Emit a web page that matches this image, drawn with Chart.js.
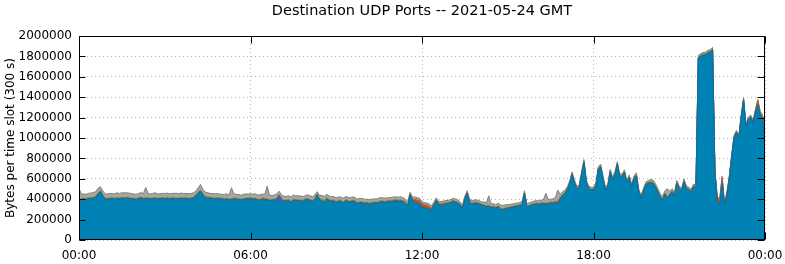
<!DOCTYPE html>
<html lang="en">
<head>
<meta charset="UTF-8">
<title>Destination UDP Ports</title>
<script src="https://cdn.jsdelivr.net/npm/chart.js"></script>
<style>
  html, body { margin: 0; padding: 0; background: #fff; }
  #wrap { width: 785px; height: 264px; }
</style>
</head>
<body>
<div id="wrap"><canvas id="chart" width="785" height="264"></canvas></div>
<script>
// 300 s slots from 00:00 to 24:00, one row per hour
const titleText = 'Destination UDP Ports -- 2021-05-24 GMT';
const xTickLabels = ['00:00', '06:00', '12:00', '18:00', '00:00'];

const portMain = [
  403000,393000,400000,395000,405000,405000,408000,418000,450000,473000,428000,400000,
  398000,402000,405000,400000,405000,403000,408000,405000,410000,405000,402000,400000,
  395000,405000,410000,400000,402000,405000,400000,402000,405000,400000,402000,405000,
  402000,405000,400000,405000,403000,400000,402000,405000,403000,405000,400000,402000,
  410000,430000,455000,475000,440000,415000,410000,408000,405000,400000,405000,402000,
  400000,395000,400000,392000,395000,400000,400000,395000,390000,395000,400000,402000,
  405000,398000,400000,390000,388000,400000,395000,392000,385000,388000,390000,392000,
  380000,385000,378000,380000,385000,368000,390000,385000,385000,380000,378000,392000,
  395000,385000,375000,395000,440000,395000,380000,370000,400000,385000,378000,380000,
  365000,380000,375000,362000,385000,375000,370000,380000,372000,355000,365000,362000,
  355000,360000,350000,358000,362000,360000,365000,375000,368000,370000,378000,375000,
  380000,385000,378000,382000,375000,360000,330000,440000,385000,370000,362000,355000,
  320000,315000,312000,305000,290000,340000,385000,345000,340000,345000,350000,355000,
  365000,375000,370000,360000,340000,310000,400000,455000,365000,350000,360000,358000,
  350000,340000,335000,325000,330000,315000,320000,310000,325000,300000,295000,305000,
  310000,315000,320000,325000,330000,335000,340000,455000,320000,330000,340000,345000,
  350000,348000,352000,355000,350000,355000,360000,358000,365000,360000,400000,430000,
  455000,490000,550000,640000,560000,500000,510000,640000,760000,560000,500000,490000,
  490000,530000,690000,715000,600000,490000,520000,665000,590000,640000,740000,620000,
  620000,660000,555000,610000,520000,600000,630000,470000,410000,480000,540000,555000,
  560000,555000,520000,470000,420000,390000,450000,405000,440000,470000,430000,555000,
  500000,480000,570000,500000,490000,470000,520000,510000,1780000,1800000,1810000,1815000,
  1830000,1840000,1860000,650000,380000,340000,550000,330000,440000,600000,810000,1000000,
  1050000,1000000,1200000,1370000,1110000,1180000,1200000,1150000,1250000,1320000,1220000,1200000,
  920000
];

const portIndigo = [
  0,0,0,0,0,0,0,0,0,0,0,0,
  0,0,0,0,0,0,0,0,0,0,0,0,
  0,0,0,0,0,0,0,0,0,0,0,0,
  0,0,0,0,0,0,0,0,0,0,0,0,
  0,0,0,0,0,0,0,0,0,0,0,0,
  0,0,0,0,0,0,0,0,0,0,0,0,
  0,0,0,0,0,0,0,0,0,0,0,10000,
  55000,10000,0,0,0,0,0,0,0,0,0,0,
  0,0,0,0,0,0,0,0,0,0,0,0,
  0,0,0,0,0,0,0,0,0,0,0,0,
  0,0,0,0,0,0,0,0,0,0,0,0,
  0,0,0,0,0,0,0,0,0,0,0,0,
  0,0,0,0,0,0,0,0,0,0,0,0,
  0,0,0,0,0,0,0,0,0,0,0,0,
  0,0,0,0,0,0,0,0,0,0,0,0,
  0,0,0,0,0,0,0,0,0,0,0,0,
  0,0,0,0,0,0,0,0,0,0,0,0,
  0,0,0,0,0,0,0,0,0,0,0,0,
  0,0,0,0,0,0,0,0,0,0,0,0,
  0,0,0,0,0,0,0,0,0,0,0,0,
  0,0,0,0,0,0,0,0,0,0,0,0,
  0,0,0,0,0,0,0,0,0,0,0,0,
  0,0,0,0,0,0,30000,0,0,0,0,0,
  0,0,0,0,0,0,0,0,0,10000,0,0,
  0
];

const portRed = [
  6000,6000,6000,6000,6000,6000,6000,6000,6000,6000,6000,6000,
  6000,6000,6000,6000,6000,6000,6000,6000,6000,6000,6000,6000,
  6000,6000,6000,6000,6000,6000,6000,6000,6000,6000,6000,6000,
  6000,6000,6000,6000,6000,6000,6000,6000,6000,6000,6000,6000,
  6000,6000,8000,8000,8000,6000,6000,6000,6000,6000,6000,6000,
  6000,6000,6000,6000,6000,6000,6000,6000,6000,6000,6000,6000,
  6000,6000,6000,6000,6000,6000,6000,8000,6000,6000,6000,6000,
  6000,6000,6000,6000,6000,6000,6000,6000,6000,6000,6000,6000,
  6000,6000,6000,6000,6000,6000,6000,6000,6000,6000,6000,6000,
  6000,6000,6000,6000,6000,6000,6000,6000,6000,6000,6000,6000,
  6000,6000,6000,6000,6000,6000,8000,6000,6000,6000,6000,6000,
  6000,6000,6000,6000,8000,6000,6000,6000,8000,25000,28000,28000,
  30000,28000,25000,22000,18000,8000,6000,8000,10000,12000,10000,8000,
  6000,6000,6000,6000,6000,6000,6000,6000,6000,6000,6000,6000,
  6000,6000,6000,6000,6000,6000,6000,6000,6000,6000,6000,6000,
  6000,6000,6000,6000,6000,6000,6000,6000,6000,6000,6000,6000,
  6000,6000,6000,6000,6000,6000,8000,8000,10000,12000,12000,10000,
  6000,6000,6000,6000,6000,6000,6000,6000,6000,6000,6000,6000,
  6000,6000,6000,6000,6000,6000,6000,6000,6000,6000,6000,6000,
  6000,6000,6000,6000,6000,6000,6000,6000,6000,6000,6000,6000,
  6000,6000,6000,6000,6000,6000,6000,6000,6000,6000,6000,6000,
  6000,6000,6000,6000,6000,6000,6000,6000,6000,6000,6000,6000,
  6000,6000,6000,8000,20000,55000,25000,15000,10000,8000,6000,6000,
  6000,6000,6000,6000,6000,6000,6000,6000,15000,30000,20000,10000,
  6000
];

const portGreen = [
  7000,7000,7000,7000,7000,7000,7000,7000,7000,7000,7000,7000,
  7000,7000,7000,7000,7000,7000,7000,7000,7000,7000,7000,7000,
  7000,7000,7000,7000,7000,7000,7000,7000,7000,7000,7000,7000,
  7000,7000,7000,7000,7000,7000,7000,7000,7000,7000,7000,7000,
  7000,7000,7000,7000,9000,10000,9000,7000,7000,7000,7000,7000,
  7000,7000,7000,7000,7000,7000,7000,7000,7000,7000,7000,7000,
  7000,7000,7000,7000,7000,7000,7000,7000,7000,7000,7000,7000,
  7000,7000,7000,7000,7000,7000,7000,7000,7000,7000,7000,7000,
  7000,7000,7000,7000,7000,7000,15000,15000,12000,7000,7000,7000,
  7000,7000,7000,7000,7000,7000,7000,7000,7000,7000,7000,7000,
  7000,7000,7000,7000,7000,7000,7000,7000,7000,7000,7000,7000,
  7000,7000,7000,7000,7000,7000,7000,7000,7000,7000,7000,7000,
  7000,7000,7000,7000,7000,7000,7000,7000,7000,7000,7000,7000,
  7000,7000,7000,7000,7000,7000,7000,7000,7000,7000,7000,7000,
  7000,7000,7000,7000,7000,7000,7000,7000,7000,7000,7000,7000,
  7000,7000,7000,7000,7000,7000,7000,7000,7000,7000,7000,7000,
  7000,7000,7000,7000,7000,7000,7000,7000,7000,7000,7000,7000,
  7000,7000,7000,7000,7000,7000,7000,7000,7000,7000,7000,7000,
  7000,7000,7000,7000,7000,7000,7000,7000,7000,7000,7000,7000,
  7000,7000,7000,7000,7000,7000,7000,7000,7000,7000,7000,7000,
  7000,7000,7000,7000,7000,7000,7000,7000,7000,7000,7000,7000,
  7000,7000,7000,7000,7000,7000,7000,7000,7000,7000,7000,7000,
  7000,7000,7000,7000,7000,7000,7000,7000,7000,7000,7000,7000,
  7000,7000,7000,7000,7000,7000,7000,7000,7000,7000,7000,7000,
  7000
];

const portOther = [
  90000,45000,38000,40000,40000,42000,45000,42000,45000,35000,40000,38000,
  40000,42000,38000,40000,45000,40000,42000,45000,40000,42000,40000,38000,
  40000,38000,42000,40000,100000,40000,38000,42000,45000,40000,38000,40000,
  40000,42000,40000,38000,42000,45000,40000,42000,40000,38000,42000,40000,
  40000,35000,40000,55000,40000,38000,40000,35000,38000,40000,38000,35000,
  35000,38000,40000,35000,105000,40000,35000,38000,35000,40000,38000,35000,
  35000,38000,40000,38000,42000,38000,40000,120000,40000,35000,38000,35000,
  30000,35000,38000,35000,35000,40000,38000,35000,35000,38000,35000,30000,
  35000,35000,38000,35000,20000,30000,35000,38000,30000,32000,35000,32000,
  35000,30000,32000,35000,28000,30000,32000,30000,28000,35000,30000,32000,
  30000,28000,32000,30000,28000,30000,32000,28000,30000,28000,25000,28000,
  28000,25000,28000,30000,25000,28000,30000,15000,22000,20000,18000,20000,
  15000,18000,18000,20000,20000,15000,15000,18000,20000,18000,20000,18000,
  20000,18000,20000,22000,20000,22000,18000,15000,20000,22000,20000,22000,
  22000,20000,25000,25000,90000,25000,25000,20000,25000,30000,30000,28000,
  25000,22000,20000,20000,18000,20000,22000,15000,20000,22000,20000,22000,
  25000,22000,25000,30000,95000,30000,25000,30000,35000,110000,30000,25000,
  20000,18000,15000,15000,15000,15000,15000,15000,15000,15000,15000,15000,
  15000,15000,15000,15000,15000,15000,15000,15000,15000,15000,15000,15000,
  15000,15000,15000,15000,15000,15000,15000,15000,15000,15000,15000,15000,
  20000,20000,20000,20000,20000,25000,20000,85000,25000,20000,25000,15000,
  15000,15000,15000,15000,15000,15000,15000,15000,15000,15000,15000,15000,
  15000,15000,15000,12000,12000,12000,12000,12000,12000,12000,12000,12000,
  12000,12000,12000,12000,12000,12000,12000,12000,12000,12000,12000,12000,
  10000
];

// slot start times in minutes
const slotMinutes = portMain.map((v, i) => i * 5);

const font = '"DejaVu Sans", "Liberation Sans", sans-serif';

const frame = {
  id: 'frame',
  beforeDraw(chart) {
    const ctx = chart.ctx;
    ctx.save();
    ctx.fillStyle = '#fff';
    ctx.fillRect(0, 0, chart.width, chart.height);
    ctx.restore();
  },
  afterDatasetsDraw(chart) {
    const { ctx, chartArea: a, scales } = chart;
    const L = Math.round(a.left) + 0.5, R = Math.round(a.right) - 0.5;
    const T = Math.round(a.top) + 0.5, B = Math.round(a.bottom) - 0.5;
    ctx.save();
    ctx.strokeStyle = '#000';
    ctx.lineWidth = 1;
    ctx.beginPath();
    scales.y.ticks.forEach(t => {
      const y = Math.round(scales.y.getPixelForValue(t.value)) + 0.5;
      ctx.moveTo(L, y); ctx.lineTo(L + 6, y);
      ctx.moveTo(R, y); ctx.lineTo(R - 7, y);
    });
    scales.x.ticks.forEach(t => {
      const x = Math.round(scales.x.getPixelForValue(t.value)) + 0.5;
      ctx.moveTo(x, T); ctx.lineTo(x, T + 7);
      ctx.moveTo(x, B); ctx.lineTo(x, B - 7);
    });
    ctx.stroke();
    ctx.strokeRect(L, T, R - L, B - T);
    ctx.fillStyle = '#000';
    ctx.font = '14.5px ' + font;
    ctx.textAlign = 'center';
    ctx.textBaseline = 'middle';
    ctx.fillText(titleText, (a.left + a.right) / 2, 11);
    ctx.restore();
  }
};

const layer = (label, data, fillColor, lineColor, fill) => ({
  label, data, fill,
  backgroundColor: fillColor,
  borderColor: lineColor,
  borderWidth: 1,
  pointRadius: 0,
  tension: 0
});

new Chart(document.getElementById('chart'), {
  type: 'line',
  data: {
    labels: slotMinutes,
    datasets: [
      layer('main', portMain, '#0082b4', '#0a6f99', 'origin'),
      layer('indigo', portIndigo, '#3f5fbf', '#3f5fbf', '-1'),
      layer('red', portRed, '#d9481c', '#d9481c', '-1'),
      layer('green', portGreen, '#6aa640', '#6aa640', '-1'),
      layer('other', portOther, '#a6a6a6', '#808080', '-1')
    ]
  },
  options: {
    responsive: false,
    animation: false,
    devicePixelRatio: 1,
    layout: { padding: { top: 36, right: 20, left: 0, bottom: 0 } },
    plugins: {
      legend: { display: false },
      title: { display: false },
      tooltip: { enabled: false }
    },
    scales: {
      x: {
        type: 'linear',
        min: 0,
        max: 1440,
        afterFit: s => { s.height = 24; s.paddingLeft = 0; s.paddingRight = 0; },
        border: { display: false, dash: [1, 3] },
        grid: { color: '#b4b4b4', drawTicks: false },
        ticks: {
          stepSize: 360,
          autoSkip: false,
          maxRotation: 0,
          padding: 9,
          color: '#000',
          font: { family: font, size: 12 },
          callback: (v) => xTickLabels[v / 360]
        }
      },
      y: {
        stacked: true,
        min: 0,
        max: 2000000,
        afterFit: s => { s.width = 79; s.paddingTop = 0; s.paddingBottom = 0; },
        border: { display: false, dash: [1, 3] },
        grid: { color: '#b4b4b4', drawTicks: false },
        title: {
          display: true,
          text: 'Bytes per time slot (300 s)',
          color: '#000',
          font: { family: font, size: 12 }
        },
        ticks: {
          stepSize: 200000,
          padding: 7,
          color: '#000',
          font: { family: font, size: 12 },
          callback: (v) => String(v)
        }
      }
    }
  },
  plugins: [frame]
});
</script>
</body>
</html>
